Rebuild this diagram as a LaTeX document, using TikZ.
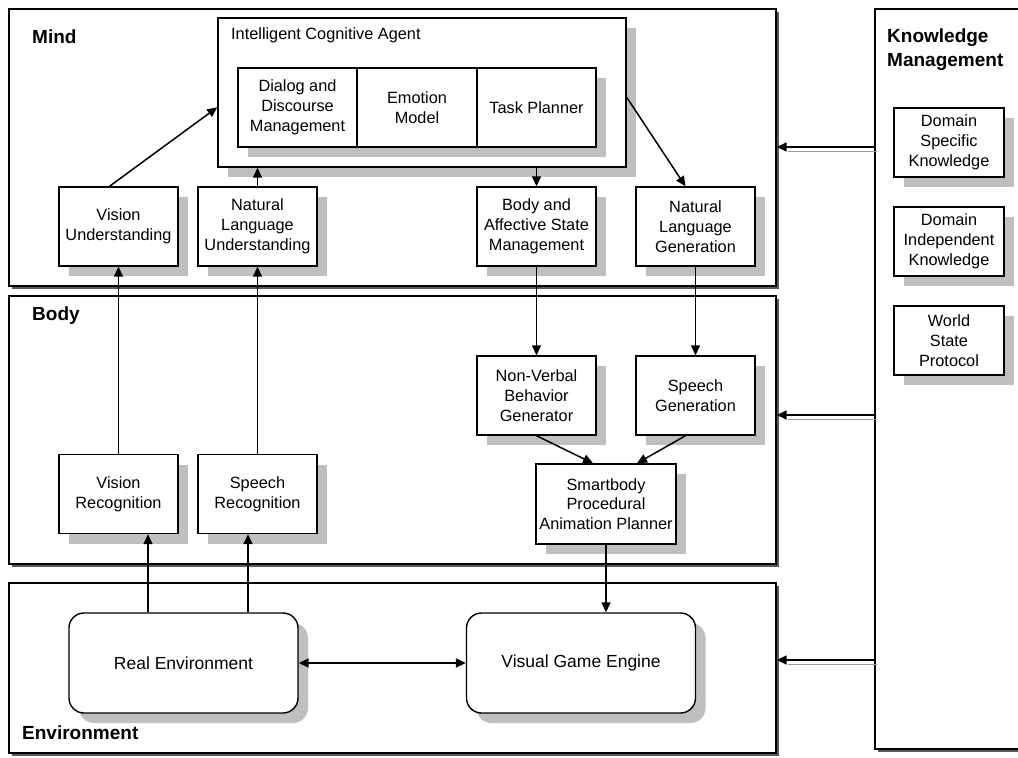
\documentclass[tikz,border=0pt]{standalone}
\usepackage{fontspec}
\setmainfont{Liberation Sans}
\usetikzlibrary{arrows.meta,shadows,calc}
\begin{document}
\begin{tikzpicture}[x=1pt,y=-1pt,
  txt/.style={font=\fontsize{16.3}{19.8}\selectfont},
  ttl/.style={font=\fontsize{19}{24}\selectfont\bfseries, anchor=west, align=left, inner sep=0pt},
  panel/.style={draw, fill=white, line width=1.4pt, inner sep=0pt,
    drop shadow={shadow xshift=3pt, shadow yshift=-3pt, fill=black!65, opacity=1}},
  blk/.style={draw, fill=white, line width=1.4pt, inner sep=0pt, align=center, txt,
    minimum width=119pt, minimum height=79pt,
    drop shadow={shadow xshift=10pt, shadow yshift=-10pt, fill=black!25, opacity=1}},
  kbox/.style={blk, minimum width=110pt, minimum height=69pt},
  inner/.style={draw, fill=white, line width=1.4pt, inner sep=0pt, align=center, txt,
    minimum height=79pt},
  envbox/.style={blk, rounded corners=15pt, minimum width=229pt, minimum height=100pt,
    font=\fontsize{17.5}{21}\selectfont},
  arr/.style={-{Triangle[length=10pt,width=9pt]}, line width=1.5pt},
  darr/.style={{Triangle[length=10pt,width=9pt]}-{Triangle[length=10pt,width=9pt]}, line width=1.5pt},
  sh/.style={black!40, line width=1.8pt}
]
\useasboundingbox (0,0) rectangle (1018,758);
\clip (0,0) rectangle (1018,758);

% panels
\node[panel, minimum width=767pt, minimum height=277pt] (mind) at (392.5,147.5) {};
\node[panel, minimum width=767pt, minimum height=268pt] (body) at (392.5,430) {};
\node[panel, minimum width=767pt, minimum height=170pt] (env) at (392.5,668) {};
\node[panel, minimum width=160pt, minimum height=740pt] (km) at (955,379) {};

\node[ttl] (tmind) at (32,37) {Mind};
\node[ttl] (tbody) at (32,316) {Body};
\node[ttl] (tenv) at (22,733) {Environment};
\node[ttl] (tkm) at (887,50) {Knowledge\\Management};

% intelligent cognitive agent
\node[blk, minimum width=408pt, minimum height=149pt] (ica) at (422,92.5) {};
\node[txt, anchor=west, inner sep=0pt] (tica) at (231,35) {Intelligent Cognitive Agent};
\fill[black!25] (248,78) rectangle (606,157);
\node[inner, minimum width=119pt] (dlg) at (297.5,107.5) {Dialog and\\Discourse\\Management};
\node[inner, minimum width=120pt] (emo) at (417,107.5) {Emotion\\Model};
\node[inner, minimum width=119pt] (tsk) at (536.5,107.5) {Task Planner};

% mind boxes
\node[blk] (vu) at (118.5,226.5) {Vision\\Understanding};
\node[blk] (nlu) at (257.5,226.5) {Natural\\Language\\Understanding};
\node[blk] (bas) at (536.5,226.5) {Body and\\Affective State\\Management};
\node[blk] (nlg) at (695.5,226.5) {Natural\\Language\\Generation};

% body boxes
\node[blk] (nvb) at (536.5,395.5) {Non-Verbal\\Behavior\\Generator};
\node[blk] (sg) at (695.5,395.5) {Speech\\Generation};
\node[blk, minimum width=140pt, minimum height=80pt] (sb) at (606,504) {Smartbody\\Procedural\\Animation Planner};
\node[blk] (vr) at (118.5,494) {Vision\\Recognition};
\node[blk] (sr) at (257.5,494) {Speech\\Recognition};

% environment boxes
\node[envbox] (re) at (183.5,663) {Real Environment};
\node[envbox] (vge) at (581,663) {Visual Game Engine};

% knowledge boxes
\node[kbox] (dsk) at (949,142.5) {Domain\\Specific\\Knowledge};
\node[kbox] (dik) at (949,241.5) {Domain\\Independent\\Knowledge};
\node[kbox] (wsp) at (949,340.5) {World\\State\\Protocol};

% connectors
\draw[arr] ([xshift=-9pt]vu.north) -- ($(ica.north west)+(0,90)$);
\draw[arr] (nlu.north) -- (nlu.north |- ica.south);
\draw[arr] (bas.north |- ica.south) -- (bas.north);
\draw[arr] ($(ica.north east)+(0,80)$) -- ([xshift=-10pt]nlg.north);
\draw[arr] (vr.north) -- (vu.south);
\draw[arr] (sr.north) -- (nlu.south);
\draw[arr] (bas.south) -- (nvb.north);
\draw[arr] (nlg.south) -- (sg.north);
\draw[arr] (nvb.south) -- ([xshift=-13pt]sb.north);
\draw[arr] ([xshift=-10pt]sg.south) -- ([xshift=31pt]sb.north);
\draw[arr] (sb.south) -- (sb.south |- vge.north);
\draw[arr] ([xshift=29.5pt]vr.south |- re.north) -- ([xshift=29.5pt]vr.south);
\draw[arr] ([xshift=-9.5pt]sr.south |- re.north) -- ([xshift=-9.5pt]sr.south);
\draw[darr] (re.east) -- (vge.west);

% knowledge management links (double lines)
\coordinate (k1) at (0,147);
\coordinate (k2) at (0,415);
\coordinate (k3) at (0,660);
\foreach \k/\p in {k1/mind,k2/body,k3/env}{
  \draw[sh] ($(km.west |- \k)+(3,4.5)$) -- ($(\p.east |- \k)+(11,4.5)$);
  \draw[arr] (km.west |- \k) -- (\p.east |- \k);
}
\end{tikzpicture}
\end{document}
